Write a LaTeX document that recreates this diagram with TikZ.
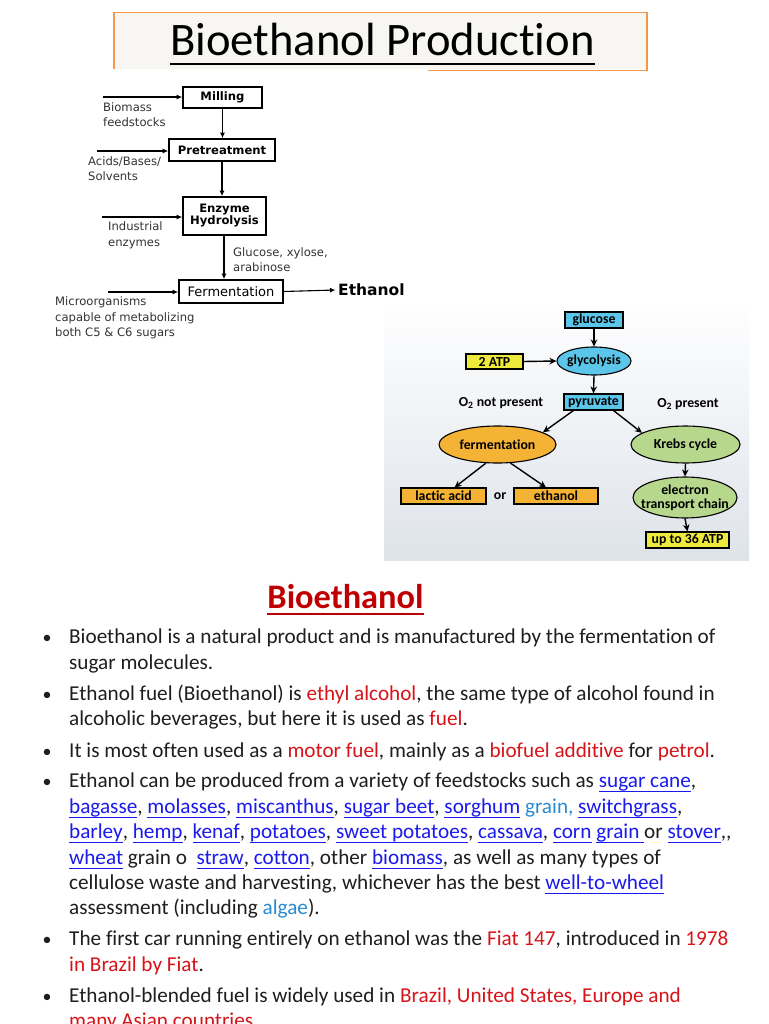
\documentclass[tikz,border=0pt]{standalone}
\usepackage{fontspec}
\setmainfont{Carlito}[Ligatures=NoCommon]
\newfontfamily\dvfont{DejaVu Sans}
\usetikzlibrary{arrows.meta,shapes.geometric,calc}
\definecolor{orangeT}{HTML}{F79646}
\definecolor{titlefill}{HTML}{F7F6F3}
\definecolor{cyanF}{HTML}{5BC6EA}
\definecolor{yellowF}{HTML}{EEEA3C}
\definecolor{orangeF}{HTML}{F5B335}
\definecolor{greenF}{HTML}{B7D78C}
\definecolor{redT}{HTML}{D7141A}
\definecolor{redH}{HTML}{C00000}
\definecolor{linkB}{HTML}{1A1AEE}
\definecolor{lightB}{HTML}{2A8AD2}
\definecolor{textK}{HTML}{1E1E1E}
\definecolor{greyL}{HTML}{333333}
\newsavebox{\ulsave}
\newcommand{\redtx}[1]{\textcolor{redT}{#1}}
\newcommand{\linktx}[1]{\sbox{\ulsave}{\color{linkB}#1}{\color{linkB}\rlap{\rule[-4.8pt]{\wd\ulsave}{1.1pt}}}\usebox{\ulsave}}
\begin{document}
\begin{tikzpicture}[x=1pt,y=-1pt,
  fbox/.style={draw, line width=1.6pt, fill=white, inner sep=0pt,
    font=\dvfont\bfseries\fontsize{11.6}{13}\selectfont},
  flab/.style={anchor=base west, inner sep=0pt, text=greyL,
    font=\dvfont\fontsize{11.6}{13}\selectfont},
  farr/.style={-{Latex[length=5.5pt,width=5pt]}, line width=1.1pt},
  pbox/.style={draw, line width=1.1pt, inner sep=0pt,
    font=\bfseries\fontsize{13.8}{14}\selectfont},
  pell/.style={draw, ellipse, line width=1.1pt, inner sep=0pt},
  ptxt/.style={inner sep=0pt, align=center, font=\bfseries\fontsize{13.8}{13.8}\selectfont},
  parr/.style={-{Stealth[length=7pt,width=6.5pt]}, line width=1.4pt},
  txt/.style={anchor=base west, inner sep=0pt, text=textK,
    font=\fontsize{21.2}{24}\selectfont},
  bul/.style={anchor=base, inner sep=0pt, text=textK,
    font=\fontsize{18}{24}\selectfont}
]
\useasboundingbox (0,0) rectangle (768,1024);
\fill[white] (0,0) rectangle (768,1024);

% ---------- title ----------
\fill[titlefill] (114,12.7) rectangle (647,69);
\draw[orangeT, line width=1.3pt] (114,69) -- (114,12.7) -- (647,12.7) -- (647,70.7) -- (428,70.7);
\node[anchor=base, inner sep=0pt, font=\fontsize{46.6}{50}\selectfont] (title) at (382.5,56) {Bioethanol Production};
\draw[line width=2pt] ([yshift=-8pt]title.base west) -- ([yshift=-8pt]title.base east);

% ---------- left flowchart ----------
\node[fbox, minimum width=79pt, minimum height=21pt] (mill) at (222.5,97.5) {Milling};
\node[fbox, minimum width=106pt, minimum height=22pt] (pre) at (222,150) {Pretreatment};
\node[fbox, minimum width=83pt, minimum height=38pt, align=center] (enz) at (224.5,216) {Enzyme\\[-1pt]Hydrolysis};
\node[fbox, minimum width=104pt, minimum height=23pt, font=\dvfont\fontsize{13}{14}\selectfont] (ferm) at (231,291.5) {Fermentation};
\node[anchor=west, inner sep=2.5pt, font=\dvfont\bfseries\fontsize{15.5}{17}\selectfont] (eth) at (335.5,290) {Ethanol};

\draw[farr] (mill.south) -- (mill.south |- pre.north);
\draw[farr] (pre.south) -- (pre.south |- enz.north);
\draw[farr] ([xshift=-0.5pt]enz.south) -- ([xshift=-0.5pt]enz.south |- ferm.north);
\draw[farr] (ferm.east) -- (eth.west);

\coordinate (in1) at (103,97);
\coordinate (in2) at (97,151);
\coordinate (in3) at (102,217);
\coordinate (in4) at (108,292);
\draw[farr] (in1) -- (in1 -| mill.west);
\draw[farr] (in2) -- (in2 -| pre.west);
\draw[farr] (in3) -- (in3 -| enz.west);
\draw[farr] (in4) -- (in4 -| ferm.west);

\node[flab] (l1a) at (103,112) {Biomass};
\node[flab] (l1b) at (103,127) {feedstocks};
\node[flab] (l2a) at (88,166) {Acids/Bases/};
\node[flab] (l2b) at (88,181) {Solvents};
\node[flab] (l3a) at (108,231) {Industrial};
\node[flab] (l3b) at (108,246) {enzymes};
\node[flab] (l4a) at (55,305) {Microorganisms};
\node[flab] (l4b) at (55,321) {capable of metabolizing};
\node[flab] (l4c) at (55,336) {both C5 \& C6 sugars};
\node[flab] (l5a) at (233,256) {Glucose, xylose,};
\node[flab] (l5b) at (233,271) {arabinose};

% ---------- right panel ----------
\shade[top color=white, bottom color={rgb,255:red,222;green,227;blue,234}] (384,300) rectangle (749,560);

\node[pbox, fill=cyanF, minimum width=58pt, minimum height=16pt] (glu) at (594,320) {glucose};
\node[pbox, fill=yellowF, minimum width=57pt, minimum height=15pt] (atp2) at (494.5,361.5) {2 ATP};
\node[pell, fill=cyanF, minimum width=74pt, minimum height=28pt] (glyc) at (594,361) {};
\node[ptxt] (glyct) at (glyc) {glycolysis};
\node[pbox, fill=cyanF, minimum width=59pt, minimum height=16pt] (pyr) at (593.5,402) {pyruvate};
\node[ptxt] (o2n) at (501,403) {O\textsubscript{2} not present};
\node[ptxt] (o2p) at (688,404) {O\textsubscript{2} present};
\node[pell, fill=orangeF, minimum width=117pt, minimum height=37pt] (ferm2) at (497.5,444.5) {};
\node[ptxt] (ferm2t) at (ferm2) {fermentation};
\node[pell, fill=greenF, minimum width=109pt, minimum height=37pt] (krebs) at (685.5,444.5) {};
\node[ptxt] (krebst) at (krebs) {Krebs cycle};
\node[pbox, fill=orangeF, minimum width=85pt, minimum height=16pt] (lac) at (443.5,496) {lactic acid};
\node[ptxt] (ortx) at (500,496) {or};
\node[pbox, fill=orangeF, minimum width=84pt, minimum height=16pt] (eth2) at (556,496) {ethanol};
\node[pell, fill=greenF, minimum width=104pt, minimum height=41pt] (etc) at (685,497.5) {};
\node[ptxt, font=\bfseries\fontsize{13.8}{14.5}\selectfont] (etct) at (etc) {electron\\transport chain};
\node[pbox, fill=yellowF, minimum width=83pt, minimum height=16pt] (atp36) at (687.5,540) {up to 36 ATP};

\draw[parr] (glu.south) -- (glyc.north);
\draw[parr] (atp2.east) -- (glyc.west);
\draw[parr] (glyc.south) -- (pyr.north);
\draw[parr] ([xshift=10pt]pyr.south west) -- (ferm2.15);
\draw[parr] ([xshift=-10pt]pyr.south east) -- (krebs.165);
\draw[parr] (ferm2.238) -- ([xshift=11pt]lac.north);
\draw[parr] (ferm2.305) -- ([xshift=-10pt]eth2.north);
\draw[parr] (krebs.south) -- (etc.north);
\draw[parr] (etc.south) -- (atp36.north);

% ---------- text ----------
\node[anchor=base, inner sep=0pt, text=redH, font=\bfseries\fontsize{34.4}{38}\selectfont] (head) at (345.5,608) {Bioethanol};
\draw[redH, line width=2.2pt] ([yshift=-6pt]head.base west) -- ([yshift=-6pt]head.base east);

\node[bul] (b1) at (47,643) {•};
\node[bul] (b2) at (47,700) {•};
\node[bul] (b3) at (47,757) {•};
\node[bul] (b4) at (47,787) {•};
\node[bul] (b5) at (47,945) {•};
\node[bul] (b6) at (47,1002) {•};

\node[txt] (t1) at (69,643) {Bioethanol is a natural product and is manufactured by the fermentation of};
\node[txt] (t2) at (69,669) {sugar molecules.};
\node[txt] (t3) at (69,700) {Ethanol fuel (Bioethanol) is \redtx{ethyl alcohol}, the same type of alcohol found in};
\node[txt] (t4) at (69,725) {alcoholic beverages, but here it is used as \redtx{fuel}.};
\node[txt] (t5) at (69,757) {It is most often used as a \redtx{motor fuel}, mainly as a \redtx{biofuel additive} for \redtx{petrol}.};
\node[txt] (t6) at (69,787) {Ethanol can be produced from a variety of feedstocks such as \linktx{sugar cane},};
\node[txt] (t7) at (69,813) {\linktx{bagasse}, \linktx{molasses}, \linktx{miscanthus}, \linktx{sugar beet}, \linktx{sorghum} \textcolor{lightB}{grain,} \linktx{switchgrass},};
\node[txt] (t8) at (69,838) {\linktx{barley}, \linktx{hemp}, \linktx{kenaf}, \linktx{potatoes}, \linktx{sweet potatoes}, \linktx{cassava}, \linktx{corn} \linktx{grain~}or \linktx{stover},{},};
\node[txt] (t9) at (69,864) {\linktx{wheat} grain o\ \ \linktx{straw}, \linktx{cotton}, other \linktx{biomass}, as well as many types of};
\node[txt] (t10) at (69,889) {cellulose waste and harvesting, whichever has the best \linktx{well-to-wheel}};
\node[txt] (t11) at (69,914) {assessment (including \textcolor{lightB}{algae}).};
\node[txt] (t12) at (69,945) {The first car running entirely on ethanol was the \redtx{Fiat 147}, introduced in \redtx{1978}};
\node[txt] (t13) at (69,971) {\redtx{in Brazil by Fiat}.};
\node[txt] (t14) at (69,1002) {Ethanol-blended fuel is widely used in \redtx{Brazil, United States, Europe and}};
\node[txt] (t15) at (69,1027) {\redtx{many Asian countries}.};
\end{tikzpicture}
\end{document}
